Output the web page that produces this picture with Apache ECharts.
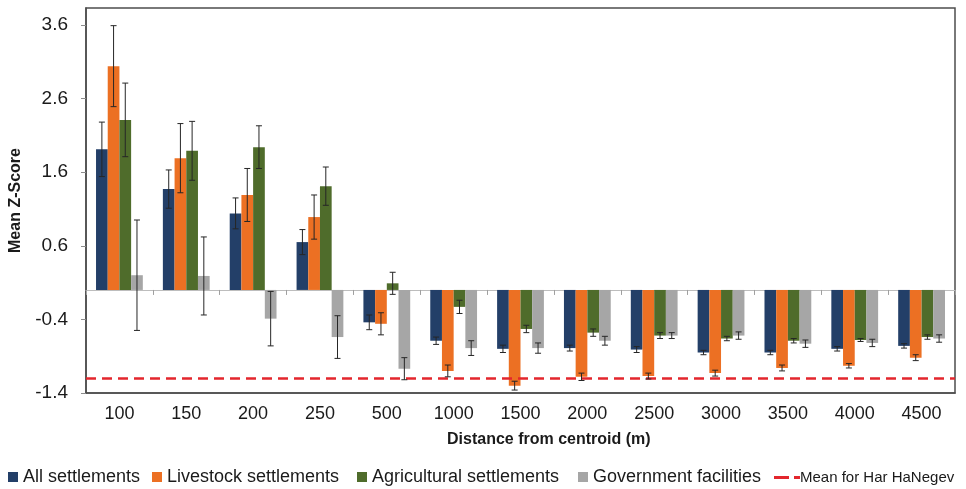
<!DOCTYPE html>
<html>
<head>
<meta charset="utf-8">
<script src="https://cdn.jsdelivr.net/npm/echarts@6/dist/echarts.min.js"></script>
<style>
  html, body { margin: 0; padding: 0; background: #ffffff; }
  #chart { width: 966px; height: 489px; }
</style>
</head>
<body>
<div id="chart"></div>
<script>
// Distance bands from the centroid (m)
const categories = ['100', '150', '200', '250', '500', '1000', '1500', '2000', '2500', '3000', '3500', '4000', '4500'];

// Mean Z-scores per group
const allSettlements = [1.91, 1.37, 1.04, 0.65, -0.44, -0.69, -0.80, -0.79, -0.81, -0.85, -0.85, -0.80, -0.76];
const livestockSettlements = [3.04, 1.79, 1.29, 0.99, -0.46, -1.10, -1.30, -1.18, -1.17, -1.13, -1.06, -1.03, -0.92];
const agriculturalSettlements = [2.31, 1.89, 1.94, 1.41, 0.09, -0.23, -0.53, -0.58, -0.62, -0.66, -0.69, -0.68, -0.64];
const governmentFacilities = [0.20, 0.19, -0.39, -0.64, -1.07, -0.79, -0.79, -0.69, -0.62, -0.62, -0.73, -0.72, -0.66];

// Error-bar half widths per group
const allErr = [0.37, 0.26, 0.21, 0.17, 0.10, 0.05, 0.05, 0.04, 0.04, 0.03, 0.03, 0.03, 0.03];
const livestockErr = [0.55, 0.47, 0.36, 0.30, 0.15, 0.08, 0.06, 0.05, 0.04, 0.04, 0.04, 0.03, 0.04];
const agriculturalErr = [0.50, 0.40, 0.29, 0.26, 0.15, 0.09, 0.05, 0.05, 0.04, 0.03, 0.03, 0.02, 0.03];
const governmentErr = [0.75, 0.53, 0.37, 0.29, 0.15, 0.10, 0.07, 0.06, 0.04, 0.05, 0.05, 0.05, 0.05];

// Regional reference mean
const harHaNegevMean = -1.2;

// Y axis ticks
const yTicks = [-1.4, -0.4, 0.6, 1.6, 2.6, 3.6];

const FONT = 'Liberation Sans, Arial, sans-serif';

const groups = [
  { name: 'All settlements', values: allSettlements, err: allErr, color: '#233f68', legendLeft: 3 },
  { name: 'Livestock settlements', values: livestockSettlements, err: livestockErr, color: '#ec7023', legendLeft: 147 },
  { name: 'Agricultural settlements', values: agriculturalSettlements, err: agriculturalErr, color: '#4f6c2b', legendLeft: 352 },
  { name: 'Government facilities', values: governmentFacilities, err: governmentErr, color: '#a6a6a6', legendLeft: 573 }
];

const CATEGORY_GAP = 0.3;
const NUM_BARS = groups.length;

function errorRenderer(groupIndex) {
  return function (params, api) {
    const cat = api.value(0);
    const lo = api.value(1);
    const hi = api.value(2);
    const base = api.coord([cat, 0]);
    const band = api.size([1, 0])[0];
    const w = band * (1 - CATEGORY_GAP) / NUM_BARS;
    const x = base[0] + (groupIndex - (NUM_BARS - 1) / 2) * w;
    const yHi = api.coord([cat, hi])[1];
    const yLo = api.coord([cat, lo])[1];
    const cap = 3;
    const style = { stroke: '#262626', lineWidth: 1 };
    return {
      type: 'group',
      children: [
        { type: 'line', shape: { x1: x, y1: yHi, x2: x, y2: yLo }, style: style },
        { type: 'line', shape: { x1: x - cap, y1: yHi, x2: x + cap, y2: yHi }, style: style },
        { type: 'line', shape: { x1: x - cap, y1: yLo, x2: x + cap, y2: yLo }, style: style }
      ]
    };
  };
}

const series = [];
groups.forEach(function (g) {
  series.push({
    name: g.name,
    type: 'bar',
    data: g.values,
    barGap: '0%',
    barCategoryGap: (CATEGORY_GAP * 100) + '%',
    itemStyle: { color: g.color },
    emphasis: { disabled: true }
  });
});
groups.forEach(function (g, gi) {
  series.push({
    name: g.name + ' error',
    type: 'custom',
    renderItem: errorRenderer(gi),
    data: g.values.map(function (v, i) { return [i, v - g.err[i], v + g.err[i]]; }),
    z: 5,
    silent: true
  });
});
series.push({
  name: 'Mean for Har HaNegev',
  type: 'line',
  data: [],
  itemStyle: { color: '#e3262d' },
  lineStyle: { color: '#e3262d', width: 2.5, type: [10, 6] },
  markLine: {
    silent: true,
    symbol: 'none',
    label: { show: false },
    lineStyle: { color: '#e3262d', width: 2.5, type: [10, 6] },
    data: [{ yAxis: harHaNegevMean }]
  }
});

// One legend block per entry so each sits at its own spot along the bottom row
const legends = groups.map(function (g) {
  return {
    data: [g.name],
    left: g.legendLeft,
    top: 463,
    icon: 'rect',
    itemWidth: 10,
    itemHeight: 10,
    textStyle: { fontSize: 18, color: '#1a1a1a', fontFamily: FONT }
  };
});
legends.push({
  data: [{ name: 'Mean for Har HaNegev', icon: 'path://M0,0h15v3H0z M20,0h6v3h-6z' }],
  left: 769,
  top: 465,
  itemWidth: 26,
  itemHeight: 3,
  textStyle: { fontSize: 15, color: '#1a1a1a', fontFamily: FONT, padding: [0, 0, 0, -5] }
});

const chart = echarts.init(document.getElementById('chart'), null, { renderer: 'canvas' });
chart.setOption({
  animation: false,
  backgroundColor: '#ffffff',
  textStyle: { fontFamily: FONT },
  title: {
    text: 'Distance from centroid (m)',
    left: 447,
    top: 432,
    padding: 0,
    textStyle: { fontSize: 16, fontWeight: 'bold', color: '#1a1a1a', fontFamily: FONT }
  },
  grid: {
    left: 86, right: 11, top: 8, bottom: 96,
    outerBoundsMode: 'none',
    containLabel: false,
    show: true,
    borderColor: '#4d4d4d',
    borderWidth: 1.5,
    backgroundColor: 'transparent'
  },
  legend: legends,
  xAxis: [
    {
      type: 'category',
      data: categories,
      position: 'bottom',
      axisLine: { onZero: false, show: true, lineStyle: { color: '#4d4d4d', width: 1.5 } },
      axisTick: { show: false },
      axisLabel: { fontSize: 18, color: '#1a1a1a', margin: 12 },
      splitLine: { show: false }
    },
    {
      type: 'category',
      data: categories,
      position: 'bottom',
      axisLine: { onZero: true, show: true, lineStyle: { color: '#bdbdbd', width: 1 } },
      axisTick: { show: true, length: 5, lineStyle: { color: '#a0a0a0' } },
      axisLabel: { show: false },
      splitLine: { show: false }
    }
  ],
  yAxis: {
    type: 'value',
    min: yTicks[0],
    max: 3.83,
    interval: 1,
    name: 'Mean Z-Score',
    nameLocation: 'middle',
    nameGap: 62,
    nameMoveOverlap: false,
    nameTextStyle: { fontSize: 16, fontWeight: 'bold', color: '#1a1a1a' },
    axisLine: { show: true, lineStyle: { color: '#4d4d4d', width: 1.5 } },
    axisTick: { show: true, length: 5, lineStyle: { color: '#8c8c8c' } },
    axisLabel: {
      fontSize: 19, color: '#1a1a1a', margin: 18,
      showMaxLabel: false,
      formatter: function (v) { return yTicks.indexOf(Math.round(v * 10) / 10) >= 0 ? v.toFixed(1) : ''; }
    },
    splitLine: { show: false }
  },
  series: series
});
</script>
</body>
</html>
